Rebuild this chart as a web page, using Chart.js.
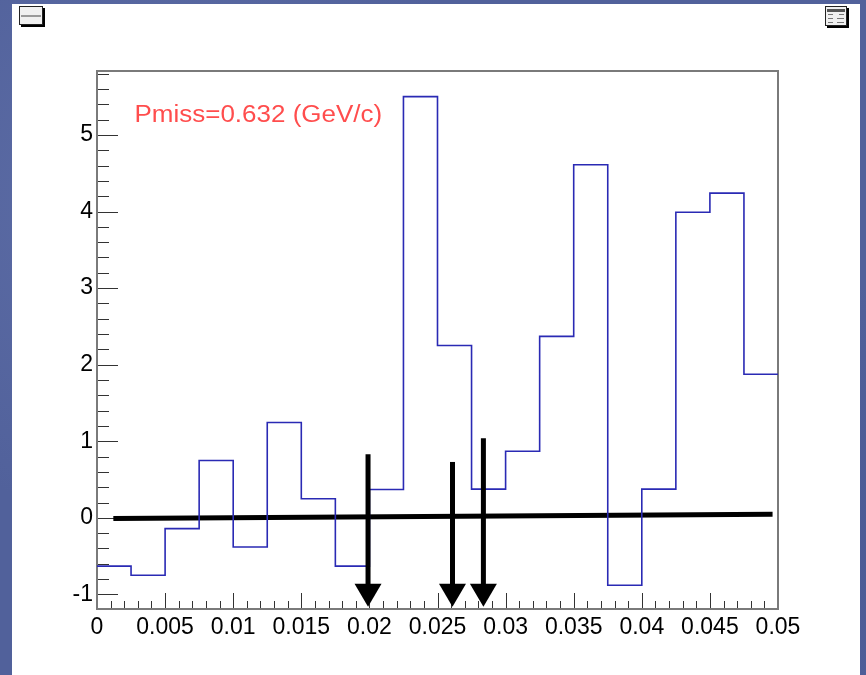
<!DOCTYPE html>
<html><head><meta charset="utf-8">
<script src="https://cdn.jsdelivr.net/npm/chart.js@4"></script>
<style>
html,body{margin:0;padding:0;width:866px;height:675px;overflow:hidden;}
body{background-color:#51619b;
  background-image:
    radial-gradient(circle at 20% 30%, rgba(120,135,190,0.35) 0, rgba(120,135,190,0) 40%),
    radial-gradient(circle at 70% 80%, rgba(40,50,110,0.35) 0, rgba(40,50,110,0) 45%);}
#panel{position:absolute;left:12px;top:4px;width:848px;height:671px;background:#fff;}
#c{position:absolute;left:0;top:0;}
.icon{position:absolute;background:#f0f0f0;border:1px solid #222;box-shadow:2px 2px 0 #000;box-sizing:border-box;}
.icon .ln{position:absolute;height:1px;background:#777;}
</style></head>
<body>
<div id="panel"></div>
<div class="icon" style="left:19px;top:6px;width:24px;height:19px;"><div class="ln" style="left:1px;top:8px;width:20px;height:2px;background:#999"></div></div>
<div class="icon" style="left:825px;top:6px;width:22px;height:20px;">
  <div class="ln" style="left:1px;top:2px;width:18px;height:3px;background:#555"></div>
  <div class="ln" style="left:2px;top:7px;width:5px"></div><div class="ln" style="left:13px;top:7px;width:5px"></div>
  <div class="ln" style="left:2px;top:11px;width:5px"></div><div class="ln" style="left:11px;top:11px;width:7px"></div>
  <div class="ln" style="left:2px;top:15px;width:5px"></div><div class="ln" style="left:11px;top:15px;width:7px"></div>
</div>
<canvas id="c" width="866" height="675"></canvas>
<script>
// ---- data ----
const binLow = [0, 0.0025, 0.005, 0.0075, 0.01, 0.0125, 0.015, 0.0175, 0.02, 0.0225,
                0.025, 0.0275, 0.03, 0.0325, 0.035, 0.0375, 0.04, 0.0425, 0.045, 0.0475];
const binValues = [-0.63, -0.75, -0.14, 0.75, -0.38, 1.245, 0.25, -0.63, 0.37, 5.50,
                   2.25, 0.375, 0.87, 2.37, 4.61, -0.88, 0.375, 3.99, 4.24, 1.876];
const xMin = 0, xMax = 0.05;
const yMin = -1.19, yMax = 5.835;
const xTickValues = [0, 0.005, 0.01, 0.015, 0.02, 0.025, 0.03, 0.035, 0.04, 0.045, 0.05];
const xTickLabels = ['0', '0.005', '0.01', '0.015', '0.02', '0.025', '0.03', '0.035', '0.04', '0.045', '0.05'];
const yTickValues = [-1, 0, 1, 2, 3, 4, 5];
const yTickLabels = ['-1', '0', '1', '2', '3', '4', '5'];
const baselineX = [0.0012, 0.0496];
const baselineY = [-0.008, 0.048];
const arrowX = [0.0199, 0.0261, 0.02837];
const arrowTop = [0.83, 0.73, 1.04];
const arrowTip = [-1.16, -1.16, -1.16];
const annotationText = 'Pmiss=0.632 (GeV/c)';
const annotationPos = [0.00275, 5.17];

const histPoints = binLow.map((x, i) => ({x: x, y: binValues[i]}));
histPoints.push({x: xMax, y: binValues[binValues.length - 1]});
const basePoints = baselineX.map((x, i) => ({x: x, y: baselineY[i]}));

const FONT = "'Liberation Sans', Arial, Helvetica, sans-serif";

const rootDecor = {
  id: 'rootDecor',
  beforeDatasetsDraw(chart) {
    const {ctx, chartArea: a, scales: {x, y}} = chart;
    ctx.save();
    ctx.strokeStyle = '#333';
    ctx.lineWidth = 1;
    ctx.beginPath();
    for (let k = 0; k <= 50; k++) {
      const v = k * 0.001;
      const px = Math.round(x.getPixelForValue(v)) + 0.5;
      const len = (k % 5 === 0) ? 16 : 8;
      ctx.moveTo(px, a.bottom);
      ctx.lineTo(px, a.bottom - len);
    }
    for (let k = -5; k <= 29; k++) {
      const v = k * 0.2;
      if (v < yMin || v > yMax) continue;
      const py = Math.round(y.getPixelForValue(v)) + 0.5;
      const len = (k % 5 === 0) ? 21 : 12;
      ctx.moveTo(a.left, py);
      ctx.lineTo(a.left + len, py);
    }
    ctx.stroke();
    ctx.strokeStyle = '#7a7a7a';
    ctx.lineWidth = 2;
    ctx.strokeRect(a.left, a.top, a.right - a.left, a.bottom - a.top);
    ctx.restore();
  },
  afterDatasetsDraw(chart) {
    const {ctx, scales: {x, y}} = chart;
    ctx.save();
    ctx.fillStyle = '#000';
    ctx.strokeStyle = '#000';
    for (let i = 0; i < arrowX.length; i++) {
      const px = x.getPixelForValue(arrowX[i]);
      const pTop = y.getPixelForValue(arrowTop[i]);
      const pTip = y.getPixelForValue(arrowTip[i]);
      const headL = 23, headW = 27;
      ctx.lineWidth = 5;
      ctx.beginPath();
      ctx.moveTo(px, pTop);
      ctx.lineTo(px, pTip - headL + 2);
      ctx.stroke();
      ctx.beginPath();
      ctx.moveTo(px - headW / 2, pTip - headL);
      ctx.lineTo(px + headW / 2, pTip - headL);
      ctx.lineTo(px, pTip);
      ctx.closePath();
      ctx.fill();
    }
    const tx = x.getPixelForValue(annotationPos[0]);
    const ty = y.getPixelForValue(annotationPos[1]);
    ctx.fillStyle = '#ff4d4d';
    ctx.font = '23px ' + FONT;
    ctx.textBaseline = 'alphabetic';
    ctx.translate(tx, ty);
    ctx.scale(1.13, 1);
    ctx.fillText(annotationText, 0, 0);
    ctx.restore();
  }
};

new Chart(document.getElementById('c'), {
  type: 'line',
  data: {
    datasets: [
      {
        label: 'hist',
        data: histPoints,
        stepped: true,
        borderColor: '#2a2ab4',
        borderWidth: 1.6,
        pointRadius: 0,
        fill: false
      },
      {
        label: 'baseline',
        data: basePoints,
        borderColor: '#000',
        borderWidth: 5,
        pointRadius: 0,
        fill: false
      }
    ]
  },
  options: {
    responsive: false,
    animation: false,
    events: [],
    layout: {padding: {left: 0, top: 71, right: 88, bottom: 26}},
    plugins: {legend: {display: false}, tooltip: {enabled: false}},
    scales: {
      x: {
        type: 'linear', min: xMin, max: xMax,
        grid: {display: false, drawTicks: false},
        border: {display: false},
        afterBuildTicks: s => { s.ticks = xTickValues.map(v => ({value: v})); },
        afterFit: s => { s.height = 40; },
        ticks: {
          autoSkip: false, maxRotation: 0, padding: 5, color: '#000',
          font: {family: FONT, size: 23},
          callback: (v, i) => xTickLabels[i]
        }
      },
      y: {
        type: 'linear', min: yMin, max: yMax,
        grid: {display: false, drawTicks: false},
        border: {display: false},
        afterBuildTicks: s => { s.ticks = yTickValues.map(v => ({value: v})); },
        afterFit: s => { s.width = 97; },
        ticks: {
          autoSkip: false, padding: 4, color: '#000',
          font: {family: FONT, size: 23},
          callback: (v, i) => yTickLabels[i]
        }
      }
    }
  },
  plugins: [rootDecor]
});
</script>
</body></html>
